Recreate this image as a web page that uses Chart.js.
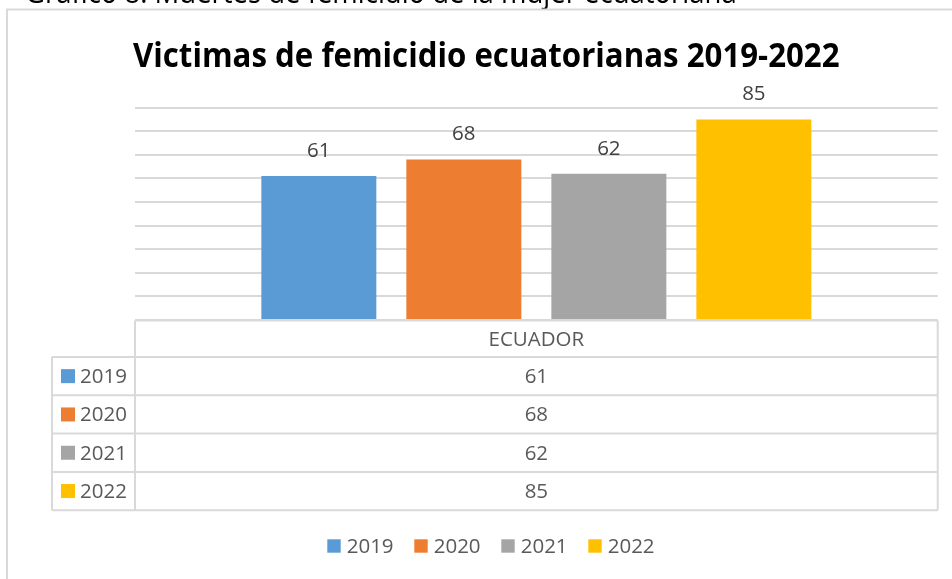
<!DOCTYPE html>
<html>
<head>
<meta charset="utf-8">
<script src="https://cdn.jsdelivr.net/npm/chart.js@4.4.1/dist/chart.umd.min.js"></script>
<style>
  html, body { margin: 0; padding: 0; background: #ffffff; }
  #wrap { position: relative; width: 952px; height: 579px; overflow: hidden; }
  canvas { display: block; }
</style>
</head>
<body>
<div id="wrap"><canvas id="c" width="952" height="579"></canvas></div>
<script>
// ---- data ----
const captionText = 'Gráfico 8. Muertes de femicidio de la mujer ecuatoriana';
const titleText = 'Victimas de femicidio ecuatorianas 2019-2022';
const categories = ['ECUADOR'];
const seriesLabels = ['2019', '2020', '2021', '2022'];
const values2019 = [61];
const values2020 = [68];
const values2021 = [62];
const values2022 = [85];
const seriesColors = ['#5B9BD5', '#ED7D31', '#A5A5A5', '#FFC000'];
const yMin = 0, yMax = 90, yStep = 10;

const seriesValues = [values2019, values2020, values2021, values2022];

const GRID = '#D9D9D9';
const TEXT = '#595959';
const FONT = '"Open Sans", "Liberation Sans", sans-serif';
const FS = 20.5;

function fitText(ctx, text, weight, targetWidth, base) {
  ctx.font = weight + ' ' + base + 'px ' + FONT;
  const w = ctx.measureText(text).width;
  return base * targetWidth / w;
}

const decor = {
  id: 'decor',
  afterDraw(chart) {
    const ctx = chart.ctx;
    const area = chart.chartArea;
    ctx.save();

    // caption (cut off at top)
    const capSize = fitText(ctx, captionText, 'normal', 712, 24);
    ctx.font = 'normal ' + capSize + 'px ' + FONT;
    ctx.fillStyle = '#000000';
    ctx.textAlign = 'left';
    ctx.textBaseline = 'alphabetic';
    ctx.save();
    ctx.translate(25, 2.8);
    ctx.scale(1, 1.15);
    ctx.fillText(captionText, 0, 0);
    ctx.restore();

    // frame
    ctx.strokeStyle = GRID;
    ctx.lineWidth = 2;
    ctx.beginPath();
    ctx.moveTo(952, 9.5);
    ctx.lineTo(7, 9.5);
    ctx.lineTo(7, 579);
    ctx.stroke();

    // title
    const tSize = fitText(ctx, titleText, 'bold', 707, 30);
    ctx.font = 'bold ' + tSize + 'px ' + FONT;
    ctx.fillStyle = '#000000';
    const vScale = 24 / (0.714 * tSize);
    ctx.save();
    ctx.translate(133, 66.7);
    ctx.scale(1, vScale);
    ctx.fillText(titleText, 0, 0);
    ctx.restore();

    // data labels
    ctx.font = 'normal ' + FS + 'px ' + FONT;
    ctx.fillStyle = '#404040';
    ctx.textAlign = 'center';
    ctx.textBaseline = 'middle';
    chart.data.datasets.forEach((ds, i) => {
      const meta = chart.getDatasetMeta(i);
      meta.data.forEach((bar, j) => {
        ctx.fillText(String(ds.data[j]), bar.x, bar.y - 25);
      });
    });

    // data table
    const left = area.left, right = area.right, top = area.bottom + 0.5;
    const keyLeft = left - 83;
    const headerBottom = top + 36.5;
    const rowH = 38.3;
    const nRows = seriesLabels.length;
    const tableBottom = headerBottom + rowH * nRows;
    ctx.strokeStyle = GRID;
    ctx.lineWidth = 2;
    ctx.beginPath();
    ctx.moveTo(left, top); ctx.lineTo(right, top);
    for (let r = 0; r <= nRows; r++) {
      const y = headerBottom + rowH * r;
      ctx.moveTo(keyLeft, y); ctx.lineTo(right, y);
    }
    ctx.moveTo(keyLeft, headerBottom); ctx.lineTo(keyLeft, tableBottom);
    ctx.moveTo(left, top); ctx.lineTo(left, tableBottom);
    ctx.moveTo(right, top); ctx.lineTo(right, tableBottom);
    ctx.stroke();

    ctx.font = 'normal ' + FS + 'px ' + FONT;
    ctx.fillStyle = TEXT;
    ctx.textBaseline = 'middle';
    const cx = (left + right) / 2;
    ctx.textAlign = 'center';
    ctx.fillText(categories[0], cx, (top + headerBottom) / 2 + 1);
    for (let r = 0; r < nRows; r++) {
      const cy = headerBottom + rowH * (r + 0.5);
      ctx.textAlign = 'center';
      ctx.fillStyle = TEXT;
      ctx.fillText(String(seriesValues[r][0]), cx, cy + 1);
      ctx.fillStyle = seriesColors[r];
      ctx.fillRect(keyLeft + 9, cy - 7, 14, 14);
      ctx.fillStyle = TEXT;
      ctx.textAlign = 'left';
      ctx.fillText(seriesLabels[r], keyLeft + 28, cy + 1);
    }

    // bottom legend
    const legY = 546;
    for (let i = 0; i < seriesLabels.length; i++) {
      const x = 327.3 + i * 87;
      ctx.fillStyle = seriesColors[i];
      ctx.fillRect(x, legY - 6.7, 13.4, 13.4);
      ctx.fillStyle = TEXT;
      ctx.textAlign = 'left';
      ctx.fillText(seriesLabels[i], x + 19.4, legY + 1);
    }

    ctx.restore();
  }
};

new Chart(document.getElementById('c'), {
  type: 'bar',
  data: {
    labels: categories,
    datasets: seriesLabels.map((lab, i) => ({
      label: lab,
      data: seriesValues[i],
      backgroundColor: seriesColors[i],
      borderWidth: 0,
      categoryPercentage: 0.7226,
      barPercentage: 0.793
    }))
  },
  options: {
    responsive: false,
    animation: false,
    devicePixelRatio: 1,
    layout: { padding: { left: 135, right: 14.3, top: 107.7, bottom: 0 } },
    plugins: {
      legend: { display: false },
      title: { display: false },
      tooltip: { enabled: false }
    },
    scales: {
      x: {
        display: true,
        grid: { display: false },
        border: { display: false },
        ticks: { display: false },
        afterFit: s => { s.height = 259; }
      },
      y: {
        min: yMin, max: yMax,
        display: true,
        ticks: { display: false, stepSize: yStep },
        grid: { color: GRID, lineWidth: 2, drawTicks: false },
        border: { display: false },
        afterFit: s => { s.width = 0; }
      }
    }
  },
  plugins: [decor]
});
</script>
</body>
</html>
